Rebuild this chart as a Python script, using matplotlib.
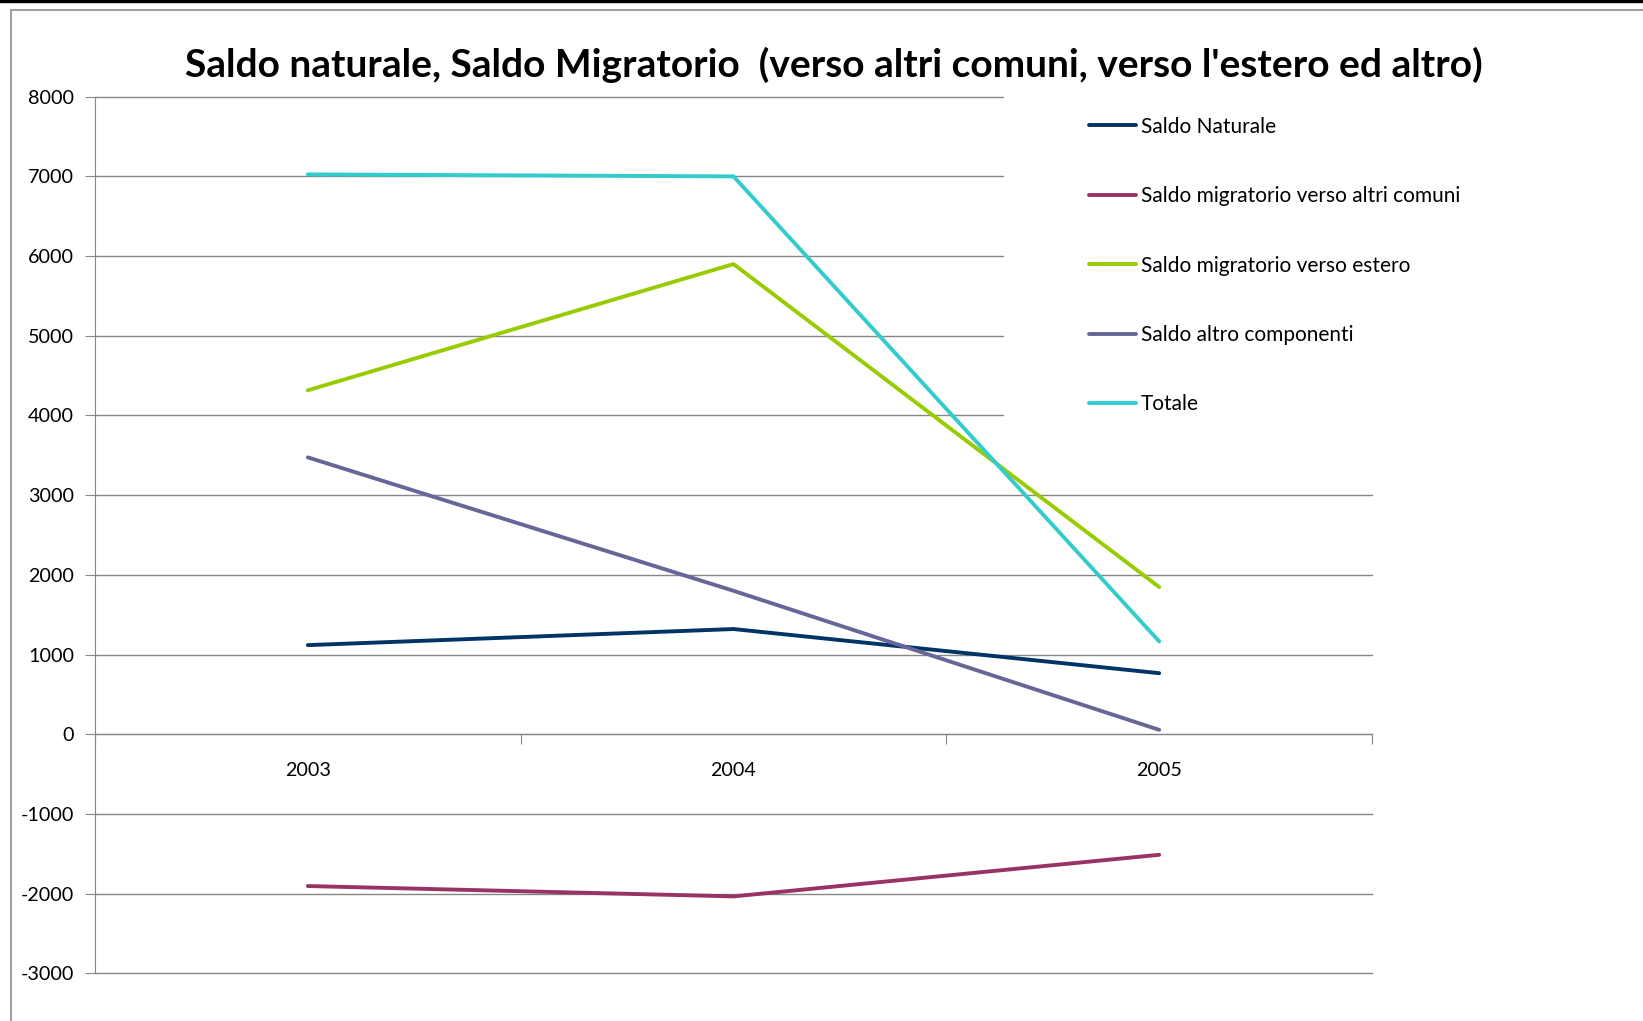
import matplotlib.pyplot as plt
import matplotlib.transforms as mtransforms
from matplotlib.patches import Rectangle
from matplotlib.lines import Line2D

plt.rcParams['font.family'] = ['Lato', 'DejaVu Sans']
plt.rcParams['axes.unicode_minus'] = False

# data
years = ['2003', '2004', '2005']
saldo_naturale = [1118, 1320, 766]
saldo_altri_comuni = [-1905, -2035, -1513]
saldo_estero = [4316, 5900, 1847]
saldo_altro = [3474, 1800, 55]
totale = [7025, 7000, 1165]

labels = ['Saldo Naturale', 'Saldo migratorio verso altri comuni',
          'Saldo migratorio verso estero', 'Saldo altro componenti', 'Totale']
colors = ['#003366', '#993366', '#99CC00', '#666699', '#33CCCC']
series = [saldo_naturale, saldo_altri_comuni, saldo_estero, saldo_altro, totale]

W, H = 1643, 1021
fig = plt.figure(figsize=(W / 100, H / 100), dpi=100)

# outer frame like the spreadsheet screenshot
fig.add_artist(Line2D([0, 1], [1 - 1.5 / H, 1 - 1.5 / H], color='black', lw=2.4,
                      transform=fig.transFigure))
fig.add_artist(Rectangle((11 / W, -0.1), 2.0, 1 - 10.5 / H + 0.1, fill=False,
                         edgecolor='#8c8c8c', lw=1.2, transform=fig.transFigure))

left, right, top, bottom = 95, 1372, 96.7, 973.3
ax = fig.add_axes([left / W, 1 - bottom / H, (right - left) / W, (bottom - top) / H])

x = list(range(len(years)))
for vals, lab, c in zip(series, labels, colors):
    ax.plot(x, vals, color=c, lw=2.8, label=lab, zorder=3, solid_capstyle='round')

ax.set_xlim(-0.5, len(years) - 0.5)
ax.set_ylim(-3000, 8000)
ax.set_yticks(range(-3000, 8001, 1000))
ax.yaxis.grid(True, color='#868686', lw=1)
ax.set_axisbelow(True)
for gl in ax.get_ygridlines():
    gl.set_clip_on(False)

# white area behind the legend hides the upper gridlines
trans = mtransforms.blended_transform_factory(ax.transAxes, ax.transData)
ax.add_patch(Rectangle(((1004 - left) / (right - left), 3500), 1, 5000,
                       transform=trans, facecolor='white', edgecolor='none',
                       zorder=1, clip_on=False))

for s in ['top', 'right']:
    ax.spines[s].set_visible(False)
ax.spines['bottom'].set_position(('data', 0))
ax.spines['left'].set_color('#868686')
ax.spines['bottom'].set_color('#868686')

ax.set_xticks([-0.5, 0.5, 1.5, 2.5])
ax.set_xticklabels([])
ax.tick_params(axis='x', which='major', length=7, color='#868686', direction='out')
ax.set_xticks(x, minor=True)
ax.set_xticklabels(years, minor=True, fontsize=14.2)
ax.tick_params(axis='x', which='minor', length=0, pad=20)
ax.tick_params(axis='y', length=7, color='#868686', labelsize=14.2, pad=8)

ax.legend(loc='upper left', bbox_to_anchor=(1070 / W, 1 - 98 / H),
          bbox_transform=fig.transFigure, frameon=False, fontsize=15,
          handlelength=2.25, handletextpad=0.25, labelspacing=2.37)

fig.text(834 / W, 1 - 65 / H, "Saldo naturale, Saldo Migratorio  (verso altri comuni, verso l'estero ed altro)",
         ha='center', va='center', fontsize=28, fontweight='bold')

fig.savefig('out.png', dpi=100)
